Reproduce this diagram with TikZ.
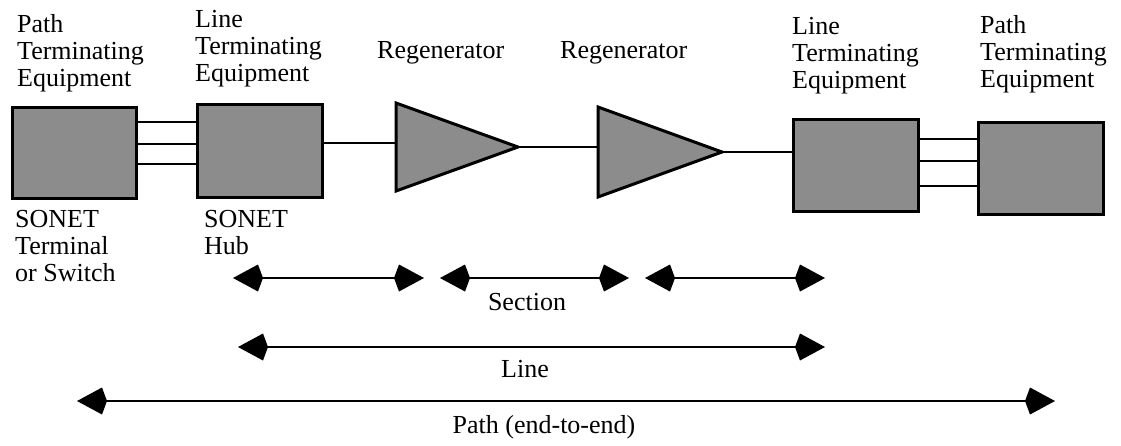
\documentclass[tikz,border=0pt]{standalone}
\usepackage{fontspec}
\setmainfont{Liberation Serif}
\usetikzlibrary{arrows.meta,calc}
\definecolor{boxgray}{RGB}{140,140,140}
\begin{document}
\begin{tikzpicture}[x=1pt,y=-1pt,
  unit/.style={draw=black,line width=3pt,fill=boxgray,inner sep=0pt,anchor=north west},
  regen/.style={draw=black,line width=3pt,fill=boxgray,line join=miter},
  wire/.style={line width=2.5pt},
  spanarrow/.style={line width=2.5pt,
    {Kite[length=30pt,width=27pt,inset=5pt]}-{Kite[length=30pt,width=27pt,inset=5pt]}},
  lbl/.style={font=\fontsize{26}{27}\selectfont,align=left,inner sep=0pt,anchor=north west},
  caption/.style={font=\fontsize{26}{27}\selectfont,inner sep=0pt,anchor=north}]
\useasboundingbox (0,0) rectangle (1121,445);

% equipment boxes
\node[unit,minimum width=124pt,minimum height=91pt] (pte1) at (11,106) {};
\node[unit,minimum width=125pt,minimum height=93pt] (lte1) at (196,103) {};
\node[unit,minimum width=125pt,minimum height=92pt] (lte2) at (792,118) {};
\node[unit,minimum width=125pt,minimum height=92pt] (pte2) at (977,121) {};

% regenerators
\draw[regen] (396,103) -- (518,147) -- (396,191) -- cycle;
\coordinate (rg1in) at (396,143);
\coordinate (rg1out) at (518,147);
\draw[regen] (598,107) -- (722,152) -- (598,197) -- cycle;
\coordinate (rg2in) at (598,147);
\coordinate (rg2out) at (722,152);

% links
\foreach \yy in {122,144,164}
  \draw[wire] (pte1.east |- 0,\yy) -- (lte1.west |- 0,\yy);
\draw[wire] (lte1.east |- rg1in) -- (rg1in);
\draw[wire] (rg1out) -- (rg2in);
\draw[wire] (rg2out) -- (lte2.west |- rg2out);
\foreach \yy in {139,161,186}
  \draw[wire] (lte2.east |- 0,\yy) -- (pte2.west |- 0,\yy);

% equipment labels
\node[lbl] (tpte1) at (17,14) {Path\\Terminating\\Equipment};
\node[lbl] (tlte1) at (195,10) {Line\\Terminating\\Equipment};
\node[lbl] (trg1) at (377,41) {Regenerator};
\node[lbl] (trg2) at (560,41) {Regenerator};
\node[lbl] (tlte2) at (792,17) {Line\\Terminating\\Equipment};
\node[lbl] (tpte2) at (980,15) {Path\\Terminating\\Equipment};
\node[lbl] (tsw) at (15,210) {SONET\\Terminal\\or Switch};
\node[lbl] (thub) at (204,210) {SONET\\Hub};

% spans
\coordinate (s1a) at (233,278); \coordinate (s1b) at (424,278);
\coordinate (s2a) at (440,278); \coordinate (s2b) at (629,278);
\coordinate (s3a) at (645,278); \coordinate (s3b) at (825,278);
\coordinate (la) at (238,347);  \coordinate (lb) at (825,347);
\coordinate (pa) at (77,401);   \coordinate (pb) at (1055,401);
\draw[spanarrow] (s1a) -- (s1b);
\draw[spanarrow] (s2a) -- (s2b);
\draw[spanarrow] (s3a) -- (s3b);
\draw[spanarrow] (la) -- (lb);
\draw[spanarrow] (pa) -- (pb);

\node[caption] (tsection) at (527,293) {Section};
\node[caption] (tline) at (525,360) {Line};
\node[caption] (tpath) at (544,415) {Path (end-to-end)};
\end{tikzpicture}
\end{document}
